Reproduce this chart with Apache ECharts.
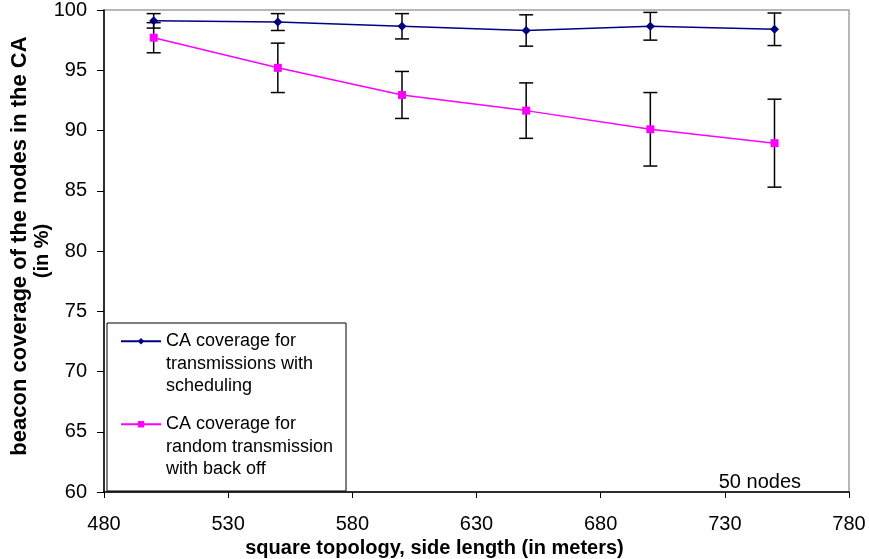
<!DOCTYPE html>
<html>
<head>
<meta charset="utf-8">
<script src="https://cdn.jsdelivr.net/npm/echarts@6/dist/echarts.min.js"></script>
<style>
  html, body { margin: 0; padding: 0; background: #fff; }
  #coverage { width: 869px; height: 559px; }
</style>
</head>
<body>
<div id="coverage"></div>
<script>
// side length of the square topology (m)
var sides = [500, 550, 600, 650, 700, 750];
// CA coverage with scheduling
var schedMean = [99.1, 99.0, 98.65, 98.3, 98.65, 98.4];
var schedErr = [0.6, 0.7, 1.05, 1.3, 1.15, 1.35];
// CA coverage with random transmission + back off
var randMean = [97.7, 95.2, 92.95, 91.65, 90.1, 88.95];
var randErr = [1.25, 2.05, 1.95, 2.3, 3.05, 3.65];

var schedName = 'CA coverage for transmissions with scheduling';
var randName = 'CA coverage for random transmission with back off';
// two blank lines in front so the icon sits on the first text line
var legendLines = {};
legendLines[schedName] = '\n\nCA coverage for\ntransmissions with\nscheduling';
legendLines[randName] = '\n\nCA coverage for\nrandom transmission\nwith back off';

var font = 'Liberation Sans, Arial, sans-serif';

function pairs(values) {
    return sides.map(function (s, i) { return [s, values[i]]; });
}

function errorBars(values, errs) {
    return {
        type: 'custom',
        silent: true,
        z: 1,
        data: sides.map(function (s, i) { return [s, values[i] - errs[i], values[i] + errs[i]]; }),
        renderItem: function (params, api) {
            var lo = api.coord([api.value(0), api.value(1)]);
            var hi = api.coord([api.value(0), api.value(2)]);
            var w = 7;
            var st = { stroke: '#000', lineWidth: 1.5 };
            return {
                type: 'group',
                children: [
                    { type: 'line', shape: { x1: lo[0], y1: lo[1], x2: hi[0], y2: hi[1] }, style: st },
                    { type: 'line', shape: { x1: hi[0] - w, y1: hi[1], x2: hi[0] + w, y2: hi[1] }, style: st },
                    { type: 'line', shape: { x1: lo[0] - w, y1: lo[1], x2: lo[0] + w, y2: lo[1] }, style: st }
                ]
            };
        }
    };
}

var chartDom = document.getElementById('coverage');
var myChart = echarts.init(chartDom);
var option = {
    animation: false,
    textStyle: { fontFamily: font },
    grid: {
        left: 104,
        right: 20,
        top: 10,
        bottom: 67,
        outerBoundsMode: 'none',
        show: true,
        borderColor: '#a0a0a0',
        borderWidth: 1.5
    },
    legend: {
        data: [schedName, randName],
        orient: 'vertical',
        left: 120,
        top: 285,
        padding: 0,
        itemGap: -29.5,
        itemWidth: 40,
        itemHeight: 8,
        formatter: function (name) { return legendLines[name]; },
        textStyle: { fontFamily: font, fontSize: 18, color: '#000', lineHeight: 22.5 }
    },
    graphic: [
        {
            type: 'rect',
            shape: { x: 107, y: 323, width: 239, height: 168 },
            style: { fill: 'none', stroke: '#000', lineWidth: 1 },
            z: 10
        },
        {
            type: 'text',
            right: 68,
            top: 472,
            style: { text: '50 nodes', fontFamily: font, fontSize: 20, fill: '#000' },
            z: 10
        }
    ],
    xAxis: {
        type: 'value',
        min: 480,
        max: 780,
        interval: 50,
        name: 'square topology, side length (in meters)',
        nameLocation: 'middle',
        nameGap: 46,
        nameMoveOverlap: false,
        nameTextStyle: { fontFamily: font, fontSize: 20, fontWeight: 'bold', color: '#000', padding: [0, 84, 0, 0] },
        splitLine: { show: false },
        axisLine: { lineStyle: { color: '#000', width: 1.5 } },
        axisTick: { length: 6, lineStyle: { color: '#000' } },
        axisLabel: { margin: 22, fontFamily: font, fontSize: 20, color: '#000' }
    },
    yAxis: {
        type: 'value',
        min: 60,
        max: 100,
        interval: 5,
        name: '{a|beacon coverage of the nodes in the CA}\n{b|(in %)}',
        nameLocation: 'middle',
        nameGap: 51,
        nameMoveOverlap: false,
        nameTextStyle: {
            fontFamily: font,
            fontWeight: 'bold',
            color: '#000',
            rich: {
                a: { fontFamily: font, fontSize: 22, fontWeight: 'bold', color: '#000', lineHeight: 22, padding: [0, 0, 0, 10] },
                b: { fontFamily: font, fontSize: 20, fontWeight: 'bold', color: '#000', lineHeight: 22 }
            }
        },
        splitLine: { show: false },
        axisLine: { show: true, lineStyle: { color: '#000', width: 1.5 } },
        axisTick: { show: true, length: 7, lineStyle: { color: '#000' } },
        axisLabel: { margin: 17, fontFamily: font, fontSize: 20, color: '#000' }
    },
    series: [
        errorBars(schedMean, schedErr),
        errorBars(randMean, randErr),
        {
            name: schedName,
            type: 'line',
            data: pairs(schedMean),
            symbol: 'diamond',
            symbolSize: 9,
            z: 3,
            itemStyle: { color: '#000080' },
            lineStyle: { color: '#000080', width: 1.5 }
        },
        {
            name: randName,
            type: 'line',
            data: pairs(randMean),
            symbol: 'rect',
            symbolSize: 8,
            z: 3,
            itemStyle: { color: '#ff00ff' },
            lineStyle: { color: '#ff00ff', width: 1.5 }
        }
    ]
};
option && myChart.setOption(option);
</script>
</body>
</html>
